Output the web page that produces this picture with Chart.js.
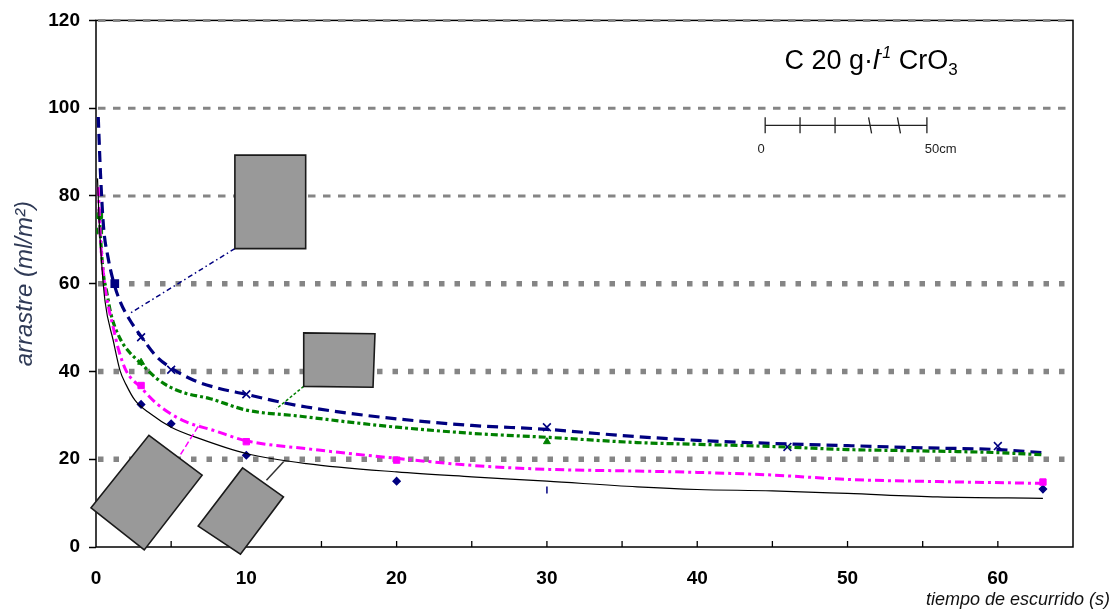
<!DOCTYPE html>
<html>
<head>
<meta charset="utf-8">
<script src="https://cdn.jsdelivr.net/npm/chart.js@4.4.1/dist/chart.umd.min.js"></script>
<style>
  html, body { margin: 0; padding: 0; background: #fff; }
</style>
</head>
<body>
<canvas id="chart" width="1115" height="610"></canvas>
<script>
// --- data (x = tiempo de escurrido, s; y = arrastre, ml/m2) ---
const navyCurveX = [0.15, 0.3, 0.5, 0.8, 1.2, 1.6, 2.2, 3, 4, 5, 6.5, 8, 10, 12, 14, 17, 20, 25, 30, 35, 40, 45, 50, 55, 60, 63];
const navyCurveY = [98, 85, 73, 66, 60, 56, 52, 48, 43.5, 40.8, 38, 36.3, 34.8, 33.2, 31.9, 30.4, 29.2, 27.7, 26.8, 25.4, 24.3, 23.6, 23.1, 22.6, 22.2, 21.5];

const greenCurveX = [0.2, 0.35, 0.5, 0.7, 1, 1.6, 2.2, 3, 4, 5, 6, 7.6, 10, 13.6, 17, 20, 25, 30, 36, 40, 45, 50, 55, 60, 63];
const greenCurveY = [77, 68, 62, 58.4, 53, 47.5, 44.5, 41.8, 38.5, 36.3, 35, 33.8, 31.2, 29.8, 28.4, 27.3, 25.9, 25, 23.8, 23.4, 22.9, 22.2, 21.9, 21.5, 21];

const pinkCurveX = [0.15, 0.3, 0.5, 0.7, 1.15, 1.5, 2, 3, 4, 5, 6, 7.8, 10, 14, 20, 25, 30, 36, 40, 45, 50, 56, 63];
const pinkCurveY = [82, 70, 62, 57, 50, 45, 40.2, 36.3, 32.8, 30.3, 28.5, 26.6, 24.2, 22.4, 20.2, 18.6, 17.7, 17.3, 17, 16.4, 15.4, 14.9, 14.5];

const blackCurveX = [0.1, 0.2, 0.35, 0.6, 1.15, 1.6, 2, 2.6, 3.6, 5, 6.9, 10, 14, 20, 25, 30, 36, 40, 45, 50, 56, 63];
const blackCurveY = [84, 75, 66, 56, 47, 40.2, 37, 33.4, 30.4, 27.3, 24.7, 21.3, 19, 17.1, 16, 15, 13.7, 13.1, 12.8, 12.2, 11.4, 11.1];

const navyMarkX = [1.25, 3, 5, 10, 30, 46, 60];
const navyMarkY = [60, 47.8, 40.4, 34.8, 27.3, 22.8, 23];

const greenMarkX = [0.25, 0.25, 3, 30];
const greenMarkY = [75.5, 72, 42.1, 24];

const pinkMarkX = [3, 10, 20, 63];
const pinkMarkY = [36.8, 24, 19.8, 14.8];

const dotMarkX = [3, 5, 10, 20, 30, 63];
const dotMarkY = [32.5, 28.1, 20.9, 15, 13, 13.2];

const yGridValues = [20, 40, 60, 80, 100, 120];
const xMinorTicks = [5, 10, 15, 20, 25, 30, 35, 40, 45, 50, 55, 60];

const FONT = '"Liberation Sans", Arial, Helvetica, sans-serif';

const toPts = (xs, ys) => xs.map((x, i) => ({ x, y: ys[i] }));

// grey sketches of the parts, in data units
const shapes = [
  [[9.24, 89.3], [13.95, 89.3], [13.95, 68.0], [9.24, 68.0]],
  [[13.82, 48.8], [18.56, 48.6], [18.43, 36.4], [13.82, 36.6]],
  [[-0.33, 8.93], [3.52, 25.45], [7.06, 16.36], [3.21, -0.68]],
  [[6.8, 4.77], [9.75, 18.02], [12.47, 11.43], [9.61, -1.66]]
];
const connectors = [
  { from: [9.24, 68.0], to: [2.33, 53.4], color: '#000080', dash: [5, 3, 1.5, 3] },
  { from: [13.82, 36.6], to: [12.0, 31.5], color: '#008000', dash: [3, 2] },
  { from: [5.63, 21.1], to: [6.91, 28.1], color: '#ff00ff', dash: [6, 3] },
  { from: [11.34, 15.2], to: [12.49, 19.5], color: '#333333', dash: [] }
];
const scaleBarTicks = [44.52, 46.84, 49.17, 51.5, 53.42, 55.28];

const decor = {
  id: 'decor',
  beforeDatasetsDraw(chart) {
    const { ctx, chartArea: a, scales: { x, y } } = chart;
    ctx.save();
    ctx.strokeStyle = '#000';
    ctx.lineWidth = 1.5;
    ctx.strokeRect(a.left, a.top, a.right - a.left, a.bottom - a.top);

    // small ticks pointing into the plot
    ctx.lineWidth = 1.3;
    ctx.beginPath();
    for (const v of xMinorTicks) {
      const px = x.getPixelForValue(v);
      ctx.moveTo(px, a.bottom);
      ctx.lineTo(px, a.bottom - 6);
    }
    ctx.stroke();

    // horizontal grid, mixed styles
    ctx.strokeStyle = '#858585';
    ctx.lineCap = 'butt';
    for (const v of yGridValues) {
      const py = y.getPixelForValue(v);
      if (v === 80 || v === 100 || v === 120) {
        ctx.lineWidth = 3;
        ctx.setLineDash([7.5, 7.5]);
      } else {
        ctx.lineWidth = 5.5;
        ctx.setLineDash([5.5, 10]);
      }
      ctx.beginPath();
      ctx.moveTo(a.left + 2, py);
      ctx.lineTo(a.right - 2, py);
      ctx.stroke();
    }
    ctx.restore();
  },
  afterDatasetsDraw(chart) {
    const { ctx, scales: { x, y } } = chart;
    const P = (p) => [x.getPixelForValue(p[0]), y.getPixelForValue(p[1])];
    ctx.save();

    for (const c of connectors) {
      const [x1, y1] = P(c.from), [x2, y2] = P(c.to);
      ctx.strokeStyle = c.color;
      ctx.lineWidth = 1.5;
      ctx.setLineDash(c.dash);
      ctx.beginPath();
      ctx.moveTo(x1, y1);
      ctx.lineTo(x2, y2);
      ctx.stroke();
    }
    ctx.setLineDash([]);

    for (const s of shapes) {
      ctx.beginPath();
      s.forEach((p, i) => {
        const [px, py] = P(p);
        if (i === 0) ctx.moveTo(px, py); else ctx.lineTo(px, py);
      });
      ctx.closePath();
      ctx.fillStyle = '#999999';
      ctx.fill();
      ctx.strokeStyle = '#1a1a1a';
      ctx.lineWidth = 1.6;
      ctx.stroke();
    }

    // scale bar
    const barY = y.getPixelForValue(96.1);
    const bx1 = x.getPixelForValue(scaleBarTicks[0]);
    const bx2 = x.getPixelForValue(scaleBarTicks[scaleBarTicks.length - 1]);
    ctx.strokeStyle = '#222';
    ctx.lineWidth = 1.3;
    ctx.beginPath();
    ctx.moveTo(bx1, barY);
    ctx.lineTo(bx2, barY);
    scaleBarTicks.forEach((v, i) => {
      const px = x.getPixelForValue(v);
      const slant = (i === 3 || i === 4) ? 1.5 : 0;
      ctx.moveTo(px - slant, barY - 8);
      ctx.lineTo(px + slant, barY + 8);
    });
    ctx.stroke();
    ctx.fillStyle = '#222';
    ctx.font = '13px ' + FONT;
    ctx.textAlign = 'center';
    ctx.textBaseline = 'middle';
    ctx.fillText('0', x.getPixelForValue(44.25), y.getPixelForValue(90.7));
    ctx.fillText('50cm', x.getPixelForValue(56.2), y.getPixelForValue(90.7));

    // concentration label: C 20 g·l-1 CrO3
    let tx = x.getPixelForValue(45.8);
    const ty = y.getPixelForValue(109);
    ctx.fillStyle = '#000';
    ctx.textAlign = 'left';
    ctx.textBaseline = 'alphabetic';
    const put = (txt, font, dy) => {
      ctx.font = font;
      ctx.fillText(txt, tx, ty + dy);
      tx += ctx.measureText(txt).width;
    };
    put('C 20 g\u00b7', '27px ' + FONT, 0);
    put('l', 'italic 27px ' + FONT, 0);
    tx -= 2;
    put('-1', 'italic 16px ' + FONT, -11);
    put(' CrO', '27px ' + FONT, 0);
    put('3', '17px ' + FONT, 6);

    // x axis title, hanging past the plot frame
    ctx.font = 'italic 18px ' + FONT;
    ctx.textAlign = 'right';
    ctx.fillStyle = '#111';
    ctx.fillText('tiempo de escurrido (s)', 1110, 605);
    ctx.restore();
  }
};

const curve = (label, xs, ys, color, width, dash) => ({
  label, data: toPts(xs, ys), showLine: true, borderColor: color, borderWidth: width,
  borderDash: dash, pointRadius: 0, cubicInterpolationMode: 'monotone', fill: false
});

new Chart(document.getElementById('chart'), {
  type: 'scatter',
  data: {
    datasets: [
      curve('negro', blackCurveX, blackCurveY, '#000000', 1.2, []),
      curve('magenta', pinkCurveX, pinkCurveY, '#ff00ff', 3, [9, 4, 3, 4]),
      curve('verde', greenCurveX, greenCurveY, '#008000', 3.2, [7, 3, 3, 3]),
      curve('azul', navyCurveX, navyCurveY, '#000080', 3.2, [11, 6]),
      {
        label: 'azul pts', data: toPts(navyMarkX, navyMarkY),
        pointStyle: ['rect', 'crossRot', 'crossRot', 'crossRot', 'crossRot', 'crossRot', 'crossRot'],
        pointRadius: [5, 5.5, 5.5, 5.5, 5.5, 5.5, 5.5],
        borderColor: '#000080', backgroundColor: '#000080', borderWidth: 1.6
      },
      {
        label: 'verde pts', data: toPts(greenMarkX, greenMarkY),
        pointStyle: ['rect', 'rect', 'triangle', 'triangle'], pointRadius: 4,
        borderColor: '#008000', backgroundColor: '#008000', borderWidth: 1
      },
      {
        label: 'magenta pts', data: toPts(pinkMarkX, pinkMarkY),
        pointStyle: 'rect', pointRadius: 4.5,
        borderColor: '#ff00ff', backgroundColor: '#ff00ff', borderWidth: 1
      },
      {
        label: 'azul puntos', data: toPts(dotMarkX, dotMarkY),
        pointStyle: ['rectRot', 'rectRot', 'rectRot', 'rectRot', 'line', 'rectRot'],
        rotation: [0, 0, 0, 0, 90, 0], pointRadius: 3.5,
        borderColor: '#000080', backgroundColor: '#000080', borderWidth: 1.5
      }
    ]
  },
  options: {
    responsive: false,
    animation: false,
    layout: { padding: { left: 0, top: 20, right: 42, bottom: 0 } },
    plugins: { legend: { display: false }, tooltip: { enabled: false } },
    scales: {
      x: {
        type: 'linear', min: 0, max: 65,
        ticks: {
          stepSize: 10, includeBounds: false, padding: 12, maxRotation: 0,
          color: '#000', font: { family: FONT, size: 19, weight: 'bold' }
        },
        grid: { display: false },
        border: { display: false },
        afterFit: (s) => { s.height = 63; }
      },
      y: {
        min: 0, max: 120,
        ticks: {
          stepSize: 20, padding: 9,
          color: '#000', font: { family: FONT, size: 19, weight: 'bold' }
        },
        grid: { drawOnChartArea: false, drawTicks: true, tickLength: 7, tickColor: '#000', tickWidth: 1.5 },
        border: { display: false },
        title: {
          display: true, text: 'arrastre (ml/m\u00b2)', color: '#2f3a56',
          font: { family: FONT, size: 24, style: 'italic' }, padding: { top: 11, bottom: 0 }
        },
        afterFit: (s) => { s.width = 96; }
      }
    }
  },
  plugins: [decor]
});
</script>
</body>
</html>
